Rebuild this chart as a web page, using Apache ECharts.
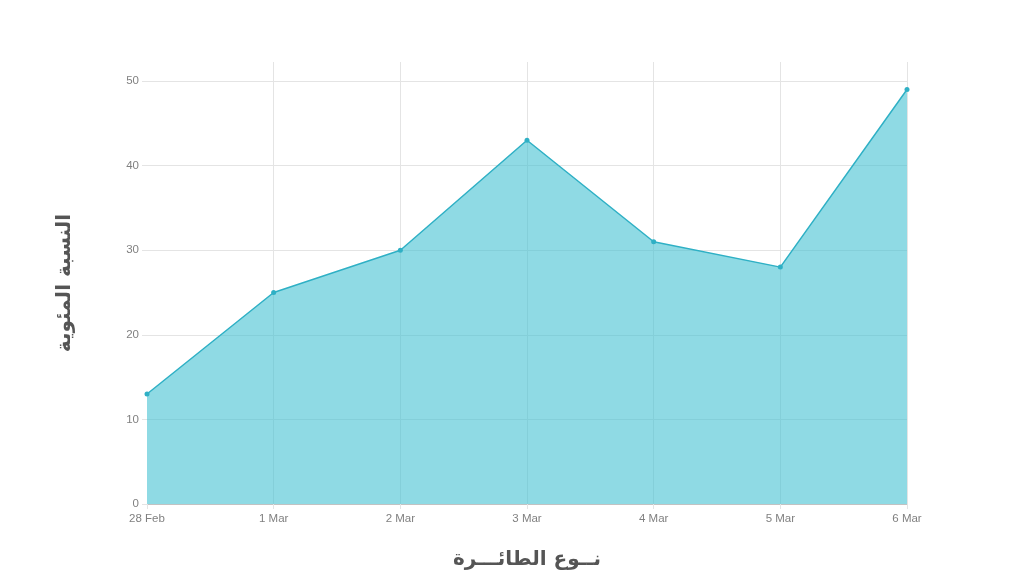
<!DOCTYPE html>
<html>
<head>
<meta charset="utf-8">
<script src="https://cdn.jsdelivr.net/npm/echarts@6/dist/echarts.min.js"></script>
<style>
html,body{margin:0;padding:0;background:#fff;}
#c{width:1024px;height:576px;}
</style>
</head>
<body>
<div id="c"></div>
<script>
const categories = ['28 Feb', '1 Mar', '2 Mar', '3 Mar', '4 Mar', '5 Mar', '6 Mar'];
const values = [13, 25, 30, 43, 31, 28, 49];
const yTitle = 'النسبة المئوية';
const xTitle = 'نــوع الطائـــرة';

const chart = echarts.init(document.getElementById('c'));
const gridLine = '#e4e4e4';
const tickFont = {color: '#808080', fontSize: 11.5, fontFamily: 'Liberation Sans, Arial, sans-serif'};
const titleFont = {color: '#555', fontSize: 20, fontWeight: 'bold', fontFamily: 'DejaVu Sans, sans-serif'};

chart.setOption({
  animation: false,
  backgroundColor: '#fff',
  grid: [
    {left: 147, right: 117, top: 81, bottom: 72},
    {left: 147, right: 117, top: 62, bottom: 72}
  ],
  xAxis: [
    {
      gridIndex: 0, type: 'category', data: categories, boundaryGap: false,
      axisLine: {show: true, lineStyle: {color: 'rgba(0,0,0,0.15)'}},
      axisTick: {show: true, length: 5, lineStyle: {color: gridLine}},
      axisLabel: Object.assign({margin: 9}, tickFont),
      splitLine: {show: false},
      name: xTitle, nameLocation: 'middle', nameGap: 46, nameTextStyle: titleFont
    },
    {
      gridIndex: 1, type: 'category', data: categories, boundaryGap: false,
      axisLine: {show: false}, axisTick: {show: false}, axisLabel: {show: false},
      splitLine: {show: true, interval: function (i) { return i > 0; }, lineStyle: {color: gridLine, width: 1}}
    }
  ],
  yAxis: [
    {
      gridIndex: 0, type: 'value', min: 0, max: 50, interval: 10,
      axisLine: {show: false},
      axisTick: {show: true, length: 5, lineStyle: {color: gridLine}},
      axisLabel: Object.assign({margin: 8}, tickFont),
      splitLine: {show: true, lineStyle: {color: gridLine, width: 1}}
    },
    {
      gridIndex: 1, type: 'value', min: 0, max: 50,
      axisLine: {show: false}, axisTick: {show: false}, axisLabel: {show: false},
      splitLine: {show: false},
      name: yTitle, nameLocation: 'middle', nameRotate: 90, nameGap: 72, nameTextStyle: titleFont
    }
  ],
  series: [{
    type: 'line',
    xAxisIndex: 0, yAxisIndex: 0,
    data: values,
    symbol: 'circle', symbolSize: 5,
    lineStyle: {color: '#2fb0c5', width: 1.5},
    itemStyle: {color: '#2fb0c5'},
    areaStyle: {color: 'rgb(68,193,210)', opacity: 0.6}
  }]
});
</script>
</body>
</html>
